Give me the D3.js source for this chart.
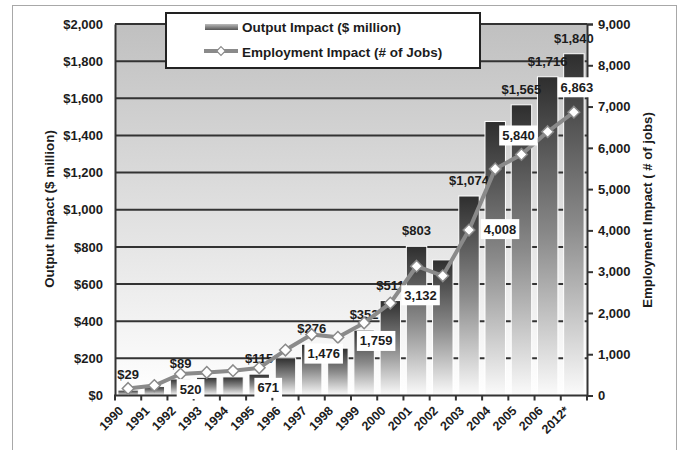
<!DOCTYPE html>
<html>
<head>
<meta charset="utf-8">
<script src="https://cdn.jsdelivr.net/npm/d3@7"></script>
<style>
  body { margin: 0; background: #fff; }
  svg { display: block; font-family: "Liberation Sans", Arial, sans-serif; font-weight: bold; }
</style>
</head>
<body>
<svg id="chart" width="688" height="450"></svg>
<script>
// Yearly economic impact
const years = ["1990", "1991", "1992", "1993", "1994", "1995", "1996", "1997", "1998",
               "1999", "2000", "2001", "2002", "2003", "2004", "2005", "2006", "2012*"];
const outputImpact = [29, 48, 89, 98, 100, 115, 203, 276, 255,
                      352, 511, 803, 730, 1074, 1475, 1565, 1716, 1840];
const employmentImpact = [170, 240, 520, 560, 600, 671, 1100, 1476, 1410,
                          1759, 2240, 3132, 2900, 4008, 5490, 5840, 6390, 6863];

// Years whose values are printed on the chart
const outputLabelYears = ["1990", "1992", "1995", "1997", "1999", "2000", "2001",
                          "2003", "2005", "2006", "2012*"];
const employmentLabelYears = ["1992", "1995", "1997", "1999", "2001", "2003", "2005", "2012*"];

const outputTicks = [0, 200, 400, 600, 800, 1000, 1200, 1400, 1600, 1800, 2000];
const employmentTicks = [0, 1000, 2000, 3000, 4000, 5000, 6000, 7000, 8000, 9000];

const legendLabels = ["Output Impact ($ million)", "Employment Impact (# of Jobs)"];

// Placement of the boxed job labels relative to their point [dx, dy]
const jobLabelShift = {
  "1992": [10, 15], "1995": [9, 20], "1997": [12, 19], "1999": [12, 18],
  "2001": [4, 29], "2003": [31, -1], "2005": [-3, -19], "2012*": [3, -25]
};

const svg = d3.select("#chart");
const plotL = 115, plotR = 587, plotT = 24, plotB = 395.5;
const ink = "#1c1c1c", lineGray = "#8a8a8a";

const x = d3.scaleBand().domain(years).range([plotL, plotR]).paddingInner(0.22).paddingOuter(0.11);
const yOut = d3.scaleLinear().domain([0, 2000]).range([plotB, plotT]);
const yJobs = d3.scaleLinear().domain([0, 9000]).range([plotB, plotT]);
const cx = d => x(d) + x.bandwidth() / 2;

const fmtOut = v => "$" + d3.format(",")(v);
const fmtJobs = d3.format(",");

// Gradients
const defs = svg.append("defs");
const bg = defs.append("linearGradient").attr("id", "plotBg").attr("x1", 0).attr("y1", 0).attr("x2", 0).attr("y2", 1);
bg.append("stop").attr("offset", 0).attr("stop-color", "#c0c0c0");
bg.append("stop").attr("offset", 1).attr("stop-color", "#ffffff");
const barGrad = defs.append("linearGradient").attr("id", "barFill").attr("x1", 0).attr("y1", 0).attr("x2", 0).attr("y2", 1);
barGrad.append("stop").attr("offset", 0).attr("stop-color", "#2e2e2e");
barGrad.append("stop").attr("offset", 0.5).attr("stop-color", "#8a8a8a");
barGrad.append("stop").attr("offset", 1).attr("stop-color", "#fbfbfb");
const swatchGrad = defs.append("linearGradient").attr("id", "swatchFill").attr("x1", 0).attr("y1", 0).attr("x2", 0).attr("y2", 1);
swatchGrad.append("stop").attr("offset", 0).attr("stop-color", "#bbbbbb");
swatchGrad.append("stop").attr("offset", 1).attr("stop-color", "#555555");

// Outer frame
svg.append("rect").attr("x", 12.5).attr("y", 5.5).attr("width", 664).attr("height", 460)
  .attr("fill", "#fff").attr("stroke", "#a8a8a8").attr("stroke-width", 1);

// Plot background
svg.append("rect").attr("x", plotL).attr("y", plotT).attr("width", plotR - plotL).attr("height", plotB - plotT)
  .attr("fill", "url(#plotBg)");

// Horizontal gridlines
svg.append("g").selectAll("line").data(outputTicks.filter(t => t > 0)).join("line")
  .attr("x1", plotL).attr("x2", plotR).attr("y1", d => yOut(d)).attr("y2", d => yOut(d))
  .attr("stroke", "#333").attr("stroke-width", 2);

// Bars
svg.append("g").selectAll("rect").data(years).join("rect")
  .attr("x", d => x(d)).attr("width", x.bandwidth())
  .attr("y", (d, i) => yOut(outputImpact[i]))
  .attr("height", (d, i) => plotB - yOut(outputImpact[i]))
  .attr("fill", "url(#barFill)").attr("stroke", "#fff").attr("stroke-width", 1);

// Dollar labels above the bars
const outputLabelData = years.map((y, i) => ({ year: y, v: outputImpact[i] }))
  .filter(d => outputLabelYears.includes(d.year));
svg.append("g").selectAll("text").data(outputLabelData).join("text")
  .attr("x", d => cx(d.year)).attr("y", d => yOut(d.v) - 11)
  .attr("text-anchor", "middle").attr("font-size", 13).attr("fill", ink)
  .text(d => fmtOut(d.v));

// Left axis
const axisL = svg.append("g").attr("transform", `translate(${plotL},0)`)
  .call(d3.axisLeft(yOut).tickValues(outputTicks).tickSize(0).tickPadding(12).tickFormat(fmtOut));
axisL.select(".domain").attr("stroke", "#333").attr("stroke-width", 2);
axisL.selectAll("text").attr("font-size", 13).attr("fill", ink)
  .attr("font-family", "Liberation Sans, Arial, sans-serif").attr("font-weight", "bold");

// Right axis
const axisR = svg.append("g").attr("transform", `translate(${plotR},0)`)
  .call(d3.axisRight(yJobs).tickValues(employmentTicks).tickSize(6).tickPadding(5).tickFormat(fmtJobs));
axisR.select(".domain").attr("stroke", "#333").attr("stroke-width", 2);
axisR.selectAll(".tick line").attr("stroke", "#333").attr("stroke-width", 2);
axisR.selectAll("text").attr("font-size", 13).attr("fill", ink)
  .attr("font-family", "Liberation Sans, Arial, sans-serif").attr("font-weight", "bold");

// Bottom axis: ticks on category boundaries
const bounds = years.map(y => x(y) - x.step() * x.paddingInner() / 2).concat([plotR]);
svg.append("line").attr("x1", plotL - 1).attr("x2", plotR + 1).attr("y1", plotB).attr("y2", plotB)
  .attr("stroke", "#333").attr("stroke-width", 2);
svg.append("g").selectAll("line").data(bounds).join("line")
  .attr("x1", d => d).attr("x2", d => d).attr("y1", plotB).attr("y2", plotB + 5)
  .attr("stroke", "#333").attr("stroke-width", 2);
svg.append("g").selectAll("text").data(years).join("text")
  .attr("transform", d => `translate(${cx(d) - 4},${plotB + 16}) rotate(-45)`)
  .attr("text-anchor", "end").attr("font-size", 12.5).attr("fill", ink)
  .text(d => d);

// Axis titles
svg.append("text").attr("transform", `translate(54,209) rotate(-90)`)
  .attr("text-anchor", "middle").attr("font-size", 13.4).attr("fill", ink)
  .text("Output Impact ($ million)");
svg.append("text").attr("transform", `translate(652,210) rotate(-90)`)
  .attr("text-anchor", "middle").attr("font-size", 13.2).attr("fill", ink)
  .text("Employment Impact ( # of jobs)");

// Employment line with diamond markers
const diamond = "M0,-5.8L5.8,0L0,5.8L-5.8,0Z";
svg.append("path").datum(years)
  .attr("d", d3.line().x(d => cx(d)).y((d, i) => yJobs(employmentImpact[i])))
  .attr("fill", "none").attr("stroke", lineGray).attr("stroke-width", 4).attr("stroke-linejoin", "round");
svg.append("g").selectAll("path").data(years).join("path")
  .attr("transform", (d, i) => `translate(${cx(d)},${yJobs(employmentImpact[i])})`)
  .attr("d", diamond).attr("fill", "#fff").attr("stroke", lineGray).attr("stroke-width", 1.5);

// Boxed job labels
const jobLabelData = years.map((y, i) => ({ year: y, v: employmentImpact[i] }))
  .filter(d => employmentLabelYears.includes(d.year));
const jobLabels = svg.append("g").selectAll("g").data(jobLabelData).join("g")
  .attr("transform", d => `translate(${cx(d.year) + jobLabelShift[d.year][0]},${yJobs(d.v) + jobLabelShift[d.year][1]})`);
jobLabels.append("text").attr("text-anchor", "middle").attr("dy", "0.35em")
  .attr("font-size", 13).attr("fill", ink).text(d => fmtJobs(d.v));
jobLabels.each(function () {
  const g = d3.select(this);
  const b = g.select("text").node().getBBox();
  g.insert("rect", "text").attr("x", b.x - 3).attr("y", b.y - 2.5)
    .attr("width", b.width + 6).attr("height", b.height + 5).attr("fill", "#fff");
});

// Legend
const lg = svg.append("g");
lg.append("rect").attr("x", 166).attr("y", 13).attr("width", 314).attr("height", 55)
  .attr("fill", "#fff").attr("stroke", "#222").attr("stroke-width", 2);
lg.append("rect").attr("x", 205).attr("y", 24).attr("width", 33).attr("height", 6)
  .attr("fill", "url(#swatchFill)");
lg.append("line").attr("x1", 204).attr("x2", 238).attr("y1", 51).attr("y2", 51)
  .attr("stroke", lineGray).attr("stroke-width", 4);
lg.append("path").attr("transform", "translate(221,51) scale(0.75)").attr("d", diamond)
  .attr("fill", "#fff").attr("stroke", lineGray).attr("stroke-width", 1.5);
lg.selectAll("text.leg").data(legendLabels).join("text").attr("class", "leg")
  .attr("x", 242).attr("y", (d, i) => 32 + i * 25)
  .attr("font-size", 13.5).attr("fill", ink).text(d => d);
</script>
</body>
</html>
